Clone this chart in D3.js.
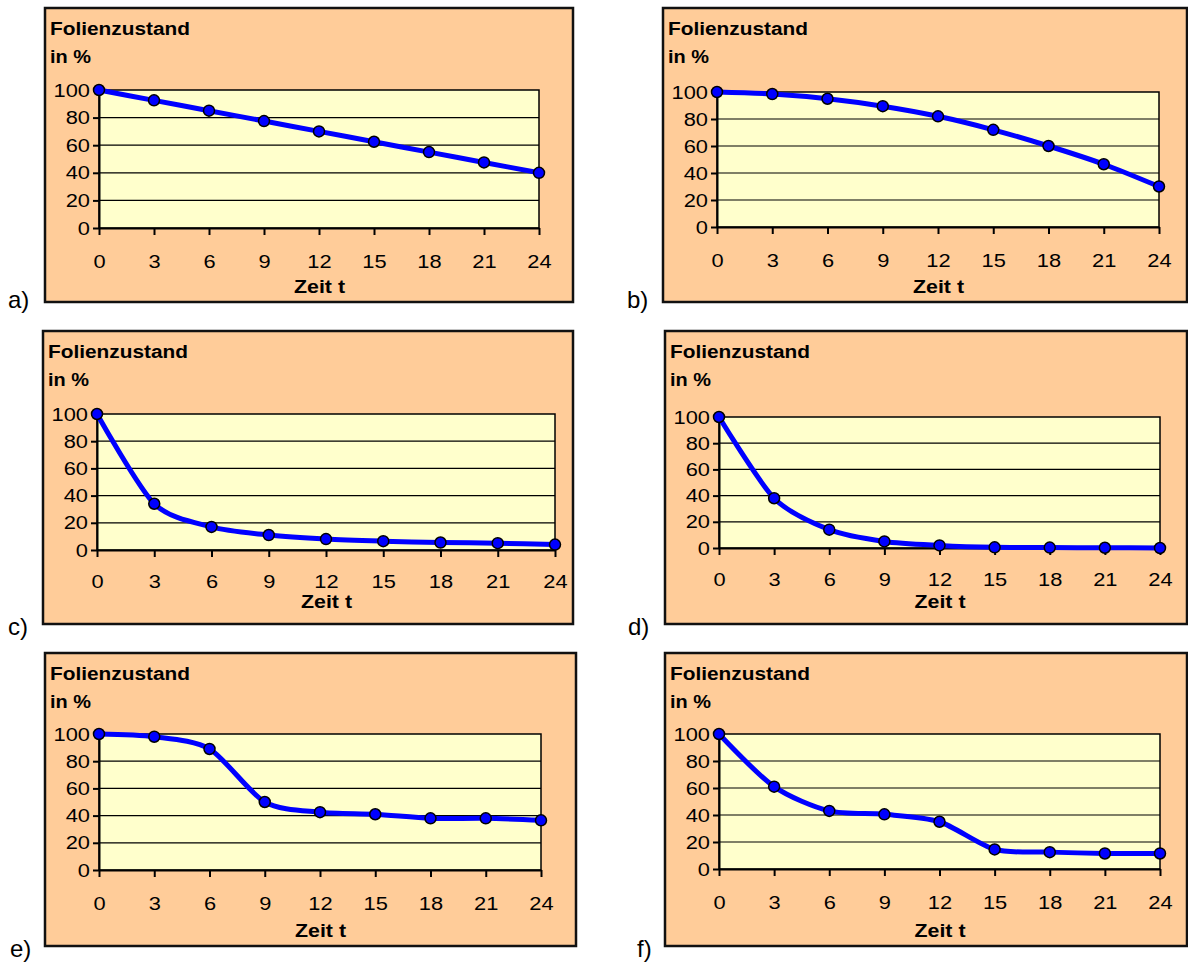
<!DOCTYPE html>
<meta charset="utf-8">
<style>
body { margin: 0; background: #fff; }
text { font-family: "Liberation Sans", Arial, sans-serif; }
.tick text { font-size: 19px; fill: #000; }
.axis path, .axis line { stroke: #000; stroke-width: 2px; }
.grid line { stroke: #000; stroke-width: 1.2px; }
.title { font-size: 18px; font-weight: bold; }
.plabel { font-size: 24px; }
</style>
<body>
<svg width="1188" height="962"></svg>
<script src="https://d3js.org/d3.v7.min.js"></script>
<script>

// Zeit t (x) and Folienzustand in % (y)
var hours = [0, 3, 6, 9, 12, 15, 18, 21, 24];
var yTicks = [0, 20, 40, 60, 80, 100];
var panelNames = ["a)", "b)", "c)", "d)", "e)", "f)"];

var seriesA = [100, 92.5, 85, 77.5, 70, 62.5, 55, 47.5, 40];
var seriesB = [100, 98.5, 95, 89.5, 82, 72, 60, 46.5, 30];
var seriesC = [100, 34, 17, 11, 8, 6.5, 5.5, 5, 4];
var seriesD = [100, 38, 14, 5, 2, 0.5, 0.3, 0.2, 0];
var seriesE = [100, 98, 89, 50, 42.5, 41, 38, 38, 36.5];
var seriesF = [100, 61, 43, 40.5, 35, 14.5, 12.5, 11.5, 11.5];

var allSeries = [seriesA, seriesB, seriesC, seriesD, seriesE, seriesF];

// frame box, plot extents, tick padding, x-label baseline, panel-letter position
var layout = [
  {fx: 45,  fy: 8,   fw: 528, fh: 294, x0: 99,  x1: 539,  yTop: 90,  yBot: 228, pad: 20, xl: 293, lx: 8,   ly: 308},
  {fx: 663, fy: 8,   fw: 524, fh: 294, x0: 717, x1: 1159, yTop: 92,  yBot: 227, pad: 20, xl: 293, lx: 627, ly: 308},
  {fx: 43,  fy: 331, fw: 530, fh: 293, x0: 97,  x1: 555,  yTop: 414, yBot: 550, pad: 18, xl: 608, lx: 8,   ly: 635},
  {fx: 665, fy: 331, fw: 522, fh: 293, x0: 719, x1: 1160, yTop: 417, yBot: 548, pad: 18, xl: 608, lx: 628, ly: 635},
  {fx: 45,  fy: 653, fw: 531, fh: 293, x0: 99,  x1: 541,  yTop: 734, yBot: 870, pad: 20, xl: 937, lx: 10,  ly: 957},
  {fx: 665, fy: 653, fw: 522, fh: 293, x0: 719, x1: 1160, yTop: 734, yBot: 869, pad: 20, xl: 937, lx: 637, ly: 957}
];

var stretch = 1.15;
var svg = d3.select("svg");

layout.forEach(function(p, i) {
  var values = allSeries[i];
  var g = svg.append("g");

  var x = d3.scaleLinear().domain([0, 24]).range([p.x0, p.x1]);
  var y = d3.scaleLinear().domain([0, 100]).range([p.yBot, p.yTop]);

  // chart area
  g.append("rect")
      .attr("x", p.fx).attr("y", p.fy)
      .attr("width", p.fw).attr("height", p.fh)
      .attr("fill", "#FFCC99")
      .attr("stroke", "#111")
      .attr("stroke-width", 2.5);

  // plot area
  g.append("rect")
      .attr("x", p.x0).attr("y", p.yTop)
      .attr("width", p.x1 - p.x0).attr("height", p.yBot - p.yTop)
      .attr("fill", "#FFFFCC")
      .attr("stroke", "#000")
      .attr("stroke-width", 1.5);

  g.append("g")
      .attr("class", "grid")
    .selectAll("line")
    .data(yTicks.slice(1, -1))
    .enter().append("line")
      .attr("x1", p.x0).attr("x2", p.x1)
      .attr("y1", function(d) { return y(d); })
      .attr("y2", function(d) { return y(d); });

  var xAxis = g.append("g")
      .attr("class", "axis")
      .attr("transform", "translate(0," + p.yBot + ")")
      .call(d3.axisBottom(x).tickValues(hours).tickSize(7).tickPadding(p.pad).tickSizeOuter(0));
  xAxis.selectAll(".tick text").attr("transform", "scale(" + stretch + ",1)");

  var yAxis = g.append("g")
      .attr("class", "axis")
      .attr("transform", "translate(" + p.x0 + ",0)")
      .call(d3.axisLeft(y).tickValues(yTicks).tickSize(6).tickPadding(3).tickSizeOuter(0));
  yAxis.selectAll(".tick text")
      .attr("x", -9 / stretch)
      .attr("transform", "scale(" + stretch + ",1)");

  g.selectAll(".axis .domain").attr("stroke-width", 2.5);

  // titles
  g.append("text").attr("class", "title")
      .attr("x", p.fx + 5).attr("y", p.fy + 27)
      .attr("textLength", 140).attr("lengthAdjust", "spacingAndGlyphs")
      .text("Folienzustand");
  g.append("text").attr("class", "title")
      .attr("x", p.fx + 5).attr("y", p.fy + 55)
      .attr("textLength", 41).attr("lengthAdjust", "spacingAndGlyphs")
      .text("in %");
  g.append("text").attr("class", "title")
      .attr("x", (p.x0 + p.x1) / 2 - 25).attr("y", p.xl)
      .attr("textLength", 51).attr("lengthAdjust", "spacingAndGlyphs")
      .text("Zeit t");

  var line = d3.line()
      .x(function(d, j) { return x(hours[j]); })
      .y(function(d) { return y(d); })
      .curve(d3.curveCardinal.tension(0.2));

  g.append("path")
      .datum(values)
      .attr("d", line)
      .attr("fill", "none")
      .attr("stroke", "#0000FF")
      .attr("stroke-width", 5)
      .attr("stroke-linejoin", "round");

  g.selectAll("circle")
    .data(values)
    .enter().append("circle")
      .attr("cx", function(d, j) { return x(hours[j]); })
      .attr("cy", function(d) { return y(d); })
      .attr("r", 5.5)
      .attr("fill", "#0000FF")
      .attr("stroke", "#000")
      .attr("stroke-width", 1.5);

  svg.append("text").attr("class", "plabel")
      .attr("x", p.lx).attr("y", p.ly)
      .text(panelNames[i]);
});

</script>
</body>
</html>
